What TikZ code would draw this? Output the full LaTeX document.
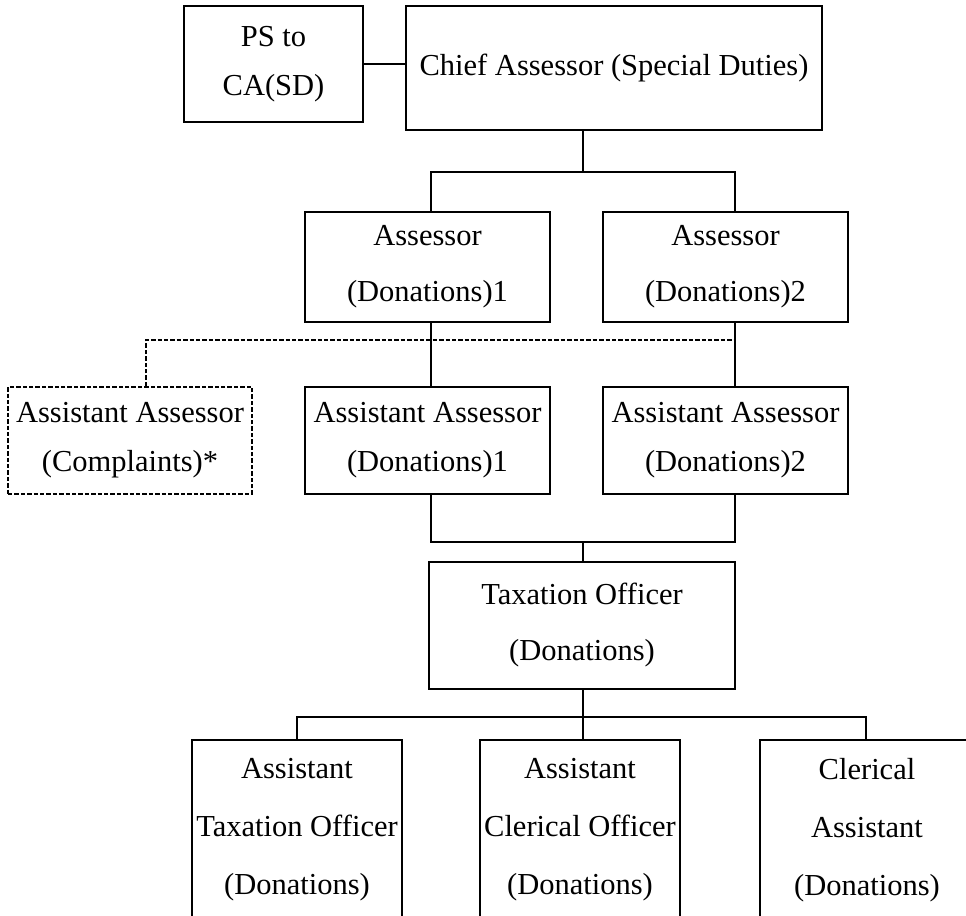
\documentclass[tikz,border=0pt]{standalone}
\usepackage{fontspec}
\setmainfont{Liberation Serif}
\usepackage{tikz}
\usetikzlibrary{positioning, calc}

\tikzset{
  orgbox/.style={draw, line width=0.9pt, align=center, inner xsep=1pt,
    font=\fontsize{15.25}{24.5}\selectfont},
  widebox/.style={orgbox, font=\fontsize{15.25}{28}\selectfont},
  lowbox/.style={orgbox, font=\fontsize{15.25}{29}\selectfont},
  dashbox/.style={dash pattern=on 2.2pt off 1pt},
  sz/.style 2 args={minimum width=#1*0.5pt, minimum height=#2*0.5pt}
}

\begin{document}
\begin{tikzpicture}[x=0.5pt, y=-0.5pt, line width=0.9pt]

                        \useasboundingbox (0,0) rectangle (966,916);
                        \clip (0,0) rectangle (966,916);

                        % Top row
                        \node (ps) [orgbox, sz={179}{116}] at (273.5,64) {PS to\\CA(SD)};
                        \node (chief) [orgbox, sz={416}{124}] at (614,68) {Chief Assessor (Special Duties)};

                        % Assessors
                        \node (asr1) [widebox, sz={245}{110}] at (427.5,267) {Assessor\\(Donations)1};
                        \node (asr2) [widebox, sz={245}{110}] at (725.5,267) {Assessor\\(Donations)2};

                        % Assistant assessors
                        \node (aac) [orgbox, dashbox, sz={244}{107}] at (130,440.5) {Assistant Assessor\\(Complaints)*};
                        \node (aa1) [orgbox, sz={245}{107}] at (427.5,440.5) {Assistant Assessor\\(Donations)1};
                        \node (aa2) [orgbox, sz={245}{107}] at (725.5,440.5) {Assistant Assessor\\(Donations)2};

                        % Taxation officer
                        \node (to) [widebox, sz={306}{127}] at (582,625.5) {Taxation Officer\\(Donations)};

                        % Bottom row
                        \node (ato) [lowbox, sz={210}{180}] at (297,830) {Assistant\\Taxation Officer\\(Donations)};
                        \node (aco) [lowbox, sz={200}{180}] at (580,830) {Assistant\\Clerical Officer\\(Donations)};
                        \node (cla) [lowbox, sz={214}{180}] at (867,830) {Clerical\\Assistant\\(Donations)};

                        % Connector positions
                        \coordinate (xc) at (146,0);
                        \coordinate (xa) at (431,0);
                        \coordinate (xm) at (583,0);
                        \coordinate (xb) at (735,0);
                        \coordinate (xl) at (297,0);
                        \coordinate (xr) at (866,0);
                        \coordinate (ya) at (0,172);
                        \coordinate (yd) at (0,340);
                        \coordinate (yb) at (0,542);
                        \coordinate (yc) at (0,717);

                        % Connectors
                        \draw (ps.east) -- (ps.east -| chief.west);
                        \draw (chief.south -| xm) -- (xm |- ya);
                        \draw (asr1.north -| xa) |- (xm |- ya) -| (asr2.north -| xb);
                        \draw (asr1.south -| xa) -- (aa1.north -| xa);
                        \draw (asr2.south -| xb) -- (aa2.north -| xb);
                        \draw[dashbox] (aac.north -| xc) |- (xb |- yd);
                        \draw (aa1.south -| xa) |- (xm |- yb) -| (aa2.south -| xb);
                        \draw (xm |- yb) -- (to.north -| xm);
                        \draw (to.south -| xm) -- (aco.north -| xm);
                        \draw (ato.north -| xl) |- (xr |- yc) -- (cla.north -| xr);

                \end{tikzpicture}
\end{document}
